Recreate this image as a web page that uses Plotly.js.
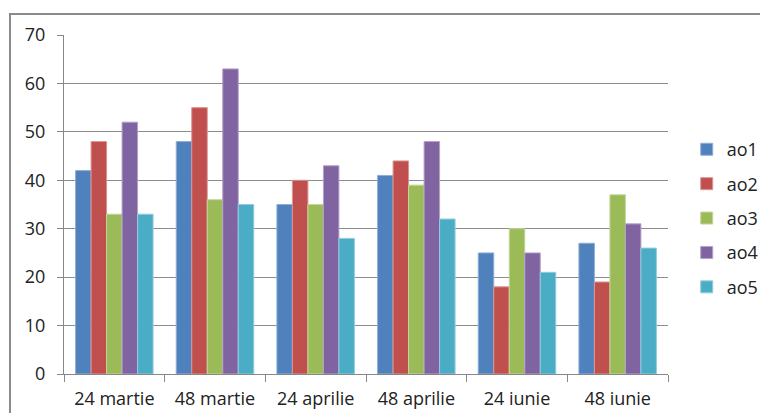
<!DOCTYPE html>
<html>
<head>
<meta charset="utf-8">
<script src="https://cdn.plot.ly/plotly-3.0.1.min.js"></script>
<style>html,body{margin:0;padding:0;background:#fff;}#chart{width:760px;height:413px;}</style>
</head>
<body>
<div id="chart"></div>
<script>
const categories = ["24 martie", "48 martie", "24 aprilie", "48 aprilie", "24 iunie", "48 iunie"];
const seriesNames = ["ao1", "ao2", "ao3", "ao4", "ao5"];
const ao1 = [42, 48, 35, 41, 25, 27];
const ao2 = [48, 55, 40, 44, 18, 19];
const ao3 = [33, 36, 35, 39, 30, 37];
const ao4 = [52, 63, 43, 48, 25, 31];
const ao5 = [33, 35, 28, 32, 21, 26];
const yTicks = [0, 10, 20, 30, 40, 50, 60, 70];

const seriesValues = [ao1, ao2, ao3, ao4, ao5];
const colors = ["#4F81BD", "#C0504D", "#9BBB59", "#8064A2", "#4BACC6"];
const edge = ["#8FAED6", "#DB9593", "#C3D79B", "#B3A2C7", "#93CDDD"];

const traces = seriesNames.map((n, i) => ({
  type: "bar",
  name: n,
  x: categories,
  y: seriesValues[i],
  legendgroup: n,
  marker: {color: colors[i], line: {color: edge[i], width: 1}},
  hoverinfo: "none"
}));

const font = {family: "Open Sans, sans-serif", size: 18, color: "#222"};

const layout = {
  width: 760, height: 413,
  margin: {l: 64, r: 92, t: 35, b: 39, pad: 0, autoexpand: false},
  paper_bgcolor: "#fff", plot_bgcolor: "#fff",
  barmode: "group", bargap: 0.23, bargroupgap: 0,
  showlegend: true,
  font: font,
  xaxis: {
    type: "category",
    tickson: "boundaries",
    ticks: "outside", ticklen: 7, tickcolor: "#888", tickwidth: 1,
    showline: true, linecolor: "#888", linewidth: 1,
    showgrid: false, tickfont: font, ticklabelstandoff: 8, fixedrange: true
  },
  yaxis: {
    range: [0, 70], tickvals: yTicks, ticktext: yTicks.map(String),
    ticks: "outside", ticklen: 6, tickcolor: "#888", tickwidth: 1,
    showline: true, linecolor: "#888", linewidth: 1,
    showgrid: true, gridcolor: "#8c8c8c", gridwidth: 1,
    zeroline: false, tickfont: font, ticklabelstandoff: 8, fixedrange: true
  },
  legend: {
    x: 1.031, xanchor: "left", y: 0.46, yanchor: "middle",
    traceorder: "grouped", tracegroupgap: 8,
    font: font, bgcolor: "rgba(0,0,0,0)"
  },
  shapes: [{
    type: "rect", xref: "paper", yref: "paper",
    x0: -0.0894, x1: 1.5, y0: -0.5, y1: 1.062,
    line: {color: "#8a8a8a", width: 2}, fillcolor: "rgba(0,0,0,0)", layer: "below"
  }]
};

Plotly.newPlot("chart", traces, layout, {displayModeBar: false, staticPlot: true});
</script>
</body>
</html>
